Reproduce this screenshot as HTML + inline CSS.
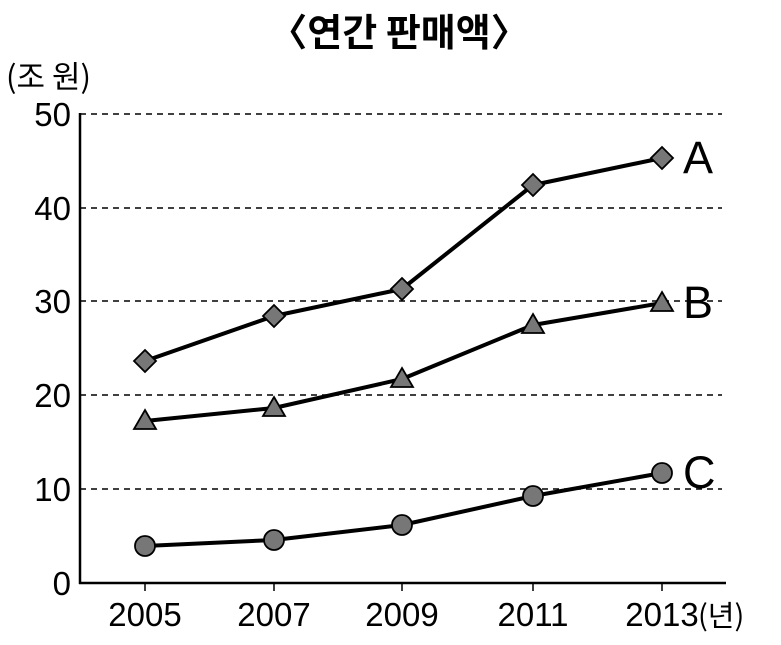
<!DOCTYPE html>
<html><head><meta charset="utf-8"><style>body{margin:0;background:#fff}</style></head>
<body>
<svg width="781" height="640" xmlns="http://www.w3.org/2000/svg" font-family="'Liberation Sans','Noto Sans CJK KR',sans-serif">
<text x="399" y="46" font-size="38" text-anchor="middle" font-weight="bold" font-family="'Noto Sans CJK KR',sans-serif">〈연간 판매액〉</text>
<text x="6" y="88" font-size="31" font-family="'Noto Sans CJK KR',sans-serif">(조 원)</text>
<g stroke="#000" stroke-width="1.5" stroke-dasharray="6,5">
<line x1="80" y1="114" x2="722" y2="114"/><line x1="80" y1="208" x2="722" y2="208"/>
<line x1="80" y1="301" x2="722" y2="301"/><line x1="80" y1="395" x2="722" y2="395"/>
<line x1="80" y1="489" x2="722" y2="489"/></g>
<g stroke="#000" stroke-width="2.5" fill="none">
<line x1="80" y1="113" x2="80" y2="584"/><line x1="79" y1="583" x2="726" y2="583"/>
<g stroke-width="1.5"><line x1="145" y1="583" x2="145" y2="591"/><line x1="274" y1="583" x2="274" y2="591"/><line x1="402" y1="583" x2="402" y2="591"/><line x1="533" y1="583" x2="533" y2="591"/><line x1="662" y1="583" x2="662" y2="591"/></g>
</g>
<g font-size="33" text-anchor="end">
<text x="71" y="126">50</text><text x="71" y="220">40</text><text x="71" y="313">30</text><text x="71" y="407">20</text><text x="71" y="501">10</text><text x="71" y="595">0</text></g>
<g font-size="33" text-anchor="middle">
<text x="145" y="626">2005</text><text x="274" y="626">2007</text><text x="402" y="626">2009</text><text x="533" y="626">2011</text><text x="662" y="626">2013</text></g>
<text x="698" y="626" font-size="29" font-family="'Noto Sans CJK KR',sans-serif">(년)</text>
<g fill="none" stroke="#000" stroke-width="4" stroke-linejoin="round">
<polyline points="145,361 274,316 402,289 533,185 662,158"/>
<polyline points="145,421 274,408 402,379 533,325 662,303"/>
<polyline points="145,546 274,540 402,525 533,496 662,473"/></g>
<g fill="#777" stroke="#000" stroke-width="1.8">
<path d="M145,350l11,11l-11,11l-11,-11z"/><path d="M274,305l11,11l-11,11l-11,-11z"/><path d="M402,278l11,11l-11,11l-11,-11z"/><path d="M533,174l11,11l-11,11l-11,-11z"/><path d="M662,147l11,11l-11,11l-11,-11z"/>
<path d="M145,410l11,19h-22z"/><path d="M274,397l11,19h-22z"/><path d="M402,368l11,19h-22z"/><path d="M533,314l11,19h-22z"/><path d="M662,292l11,19h-22z"/>
<circle cx="145" cy="546" r="10"/><circle cx="274" cy="540" r="10"/><circle cx="402" cy="525" r="10"/><circle cx="533" cy="496" r="10"/><circle cx="662" cy="473" r="10"/></g>
<g font-size="45"><text x="683" y="173">A</text><text x="683" y="318">B</text><text x="683" y="488">C</text></g>
</svg>
</body></html>
